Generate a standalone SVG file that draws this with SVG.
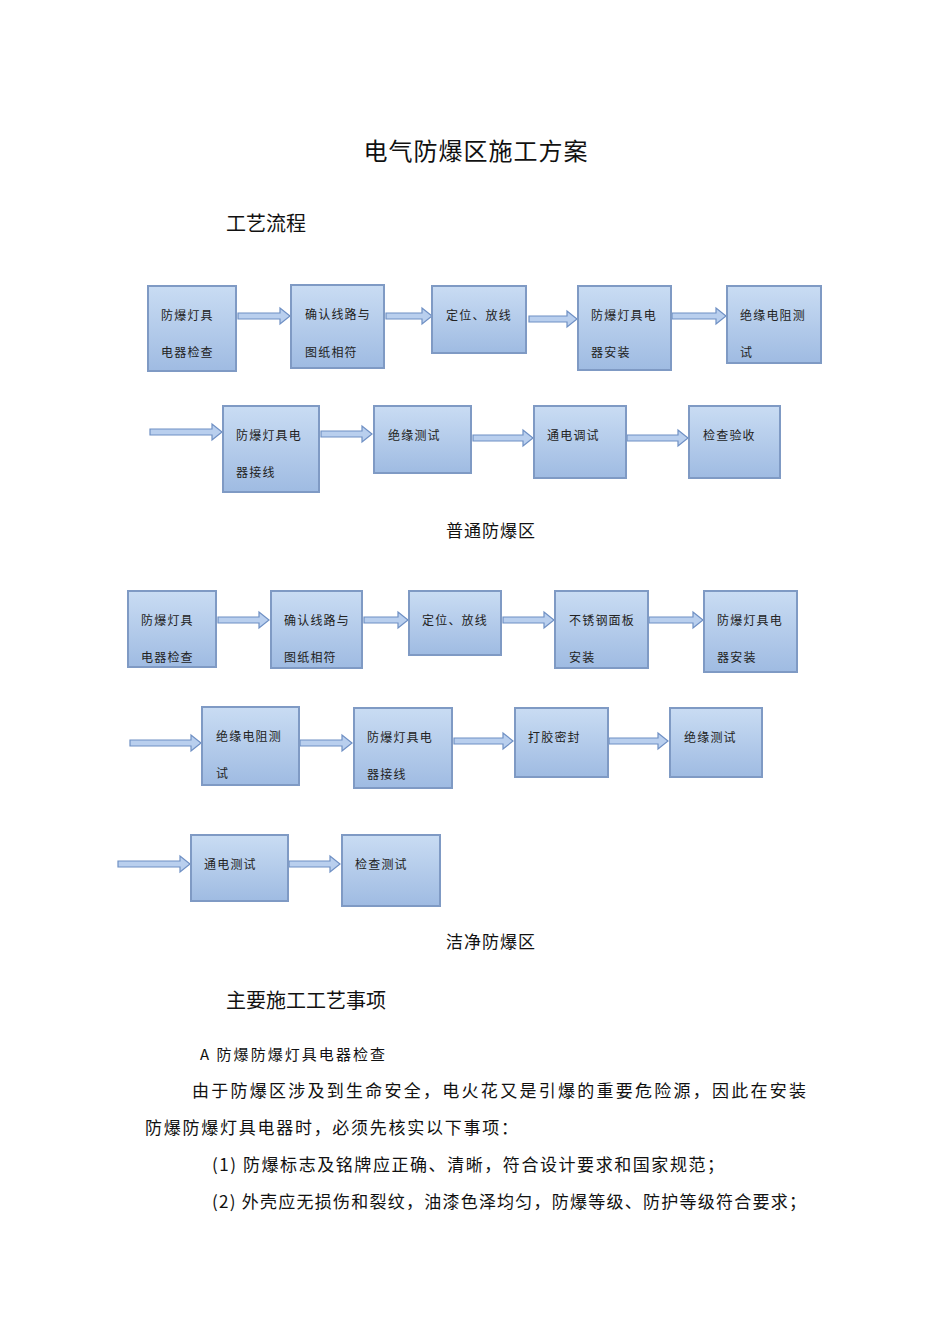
<svg xmlns="http://www.w3.org/2000/svg" width="950" height="1344" viewBox="0 0 950 1344">
<style>
.b{fill:url(#g);stroke:#7f9ac4;stroke-width:2}
.t{font-family:"Noto Sans CJK SC","Liberation Serif",serif;font-size:12px;fill:#222;letter-spacing:1.2px}
.h{font-family:"Noto Sans CJK SC","Liberation Serif",serif;fill:#111}
.a{fill:#b9cfee;stroke:#6f90c4;stroke-width:1.2}
</style>
<defs>
<linearGradient id="g" x1="0" y1="0" x2="0" y2="1"><stop offset="0" stop-color="#c9dcf3"/><stop offset="1" stop-color="#9fbbe2"/></linearGradient>
</defs>
<rect width="950" height="1344" fill="#fff"/>
<text class="h" x="476" y="160" font-size="24" text-anchor="middle" letter-spacing="1">电气防爆区施工方案</text>
<text class="h" x="226" y="231" font-size="20">工艺流程</text>
<g id="connectors">
<path class="a" d="M238,313h42v-5l10,8l-10,8v-5h-42z"/>
<path class="a" d="M386,313h36v-5l10,8l-10,8v-5h-36z"/>
<path class="a" d="M529,316h38v-5l10,8l-10,8v-5h-38z"/>
<path class="a" d="M672,313h44v-5l10,8l-10,8v-5h-44z"/>
<path class="a" d="M150,429h62v-5l10,8l-10,8v-5h-62z"/>
<path class="a" d="M321,431h41v-5l10,8l-10,8v-5h-41z"/>
<path class="a" d="M473,435h50v-5l10,8l-10,8v-5h-50z"/>
<path class="a" d="M627,435h51v-5l10,8l-10,8v-5h-51z"/>
<path class="a" d="M218,617h41v-5l10,8l-10,8v-5h-41z"/>
<path class="a" d="M364,617h34v-5l10,8l-10,8v-5h-34z"/>
<path class="a" d="M503,617h41v-5l10,8l-10,8v-5h-41z"/>
<path class="a" d="M649,617h44v-5l10,8l-10,8v-5h-44z"/>
<path class="a" d="M130,740h61v-5l10,8l-10,8v-5h-61z"/>
<path class="a" d="M300,740h42v-5l10,8l-10,8v-5h-42z"/>
<path class="a" d="M454,738h49v-5l10,8l-10,8v-5h-49z"/>
<path class="a" d="M609,738h49v-5l10,8l-10,8v-5h-49z"/>
<path class="a" d="M118,861h62v-5l10,8l-10,8v-5h-62z"/>
<path class="a" d="M289,861h41v-5l10,8l-10,8v-5h-41z"/>
</g>
<g id="n1"><rect class="b" x="148" y="286" width="88" height="85"/><text class="t" x="161" y="320" letter-spacing="5">防爆灯具</text><text class="t" x="161" y="357">电器检查</text></g>
<g id="n2"><rect class="b" x="291" y="285" width="93" height="83"/><text class="t" x="305" y="319">确认线路与</text><text class="t" x="305" y="357">图纸相符</text></g>
<g id="n3"><rect class="b" x="432" y="286" width="94" height="67"/><text class="t" x="446" y="320">定位、放线</text></g>
<g id="n4"><rect class="b" x="578" y="286" width="93" height="84"/><text class="t" x="591" y="320">防爆灯具电</text><text class="t" x="591" y="357">器安装</text></g>
<g id="n5"><rect class="b" x="727" y="286" width="94" height="77"/><text class="t" x="740" y="320">绝缘电阻测</text><text class="t" x="740" y="357">试</text></g>
<g id="n6"><rect class="b" x="223" y="406" width="96" height="86"/><text class="t" x="236" y="440">防爆灯具电</text><text class="t" x="236" y="477">器接线</text></g>
<g id="n7"><rect class="b" x="374" y="406" width="97" height="67"/><text class="t" x="388" y="440">绝缘测试</text></g>
<g id="n8"><rect class="b" x="534" y="406" width="92" height="72"/><text class="t" x="547" y="440">通电调试</text></g>
<g id="n9"><rect class="b" x="689" y="406" width="91" height="72"/><text class="t" x="703" y="440">检查验收</text></g>
<text class="h" x="491" y="537" font-size="17" text-anchor="middle" letter-spacing="1">普通防爆区</text>
<g id="m1"><rect class="b" x="128" y="591" width="88" height="76"/><text class="t" x="141" y="625" letter-spacing="5">防爆灯具</text><text class="t" x="141" y="662">电器检查</text></g>
<g id="m2"><rect class="b" x="271" y="591" width="91" height="77"/><text class="t" x="284" y="625">确认线路与</text><text class="t" x="284" y="662">图纸相符</text></g>
<g id="m3"><rect class="b" x="409" y="591" width="92" height="64"/><text class="t" x="422" y="625">定位、放线</text></g>
<g id="m4"><rect class="b" x="555" y="591" width="93" height="77"/><text class="t" x="569" y="625">不锈钢面板</text><text class="t" x="569" y="662">安装</text></g>
<g id="m5"><rect class="b" x="704" y="591" width="93" height="81"/><text class="t" x="717" y="625">防爆灯具电</text><text class="t" x="717" y="662">器安装</text></g>
<g id="m6"><rect class="b" x="202" y="707" width="97" height="78"/><text class="t" x="216" y="741">绝缘电阻测</text><text class="t" x="216" y="778">试</text></g>
<g id="m7"><rect class="b" x="354" y="708" width="98" height="80"/><text class="t" x="367" y="742">防爆灯具电</text><text class="t" x="367" y="779">器接线</text></g>
<g id="m8"><rect class="b" x="515" y="708" width="93" height="69"/><text class="t" x="528" y="742">打胶密封</text></g>
<g id="m9"><rect class="b" x="670" y="708" width="92" height="69"/><text class="t" x="684" y="742">绝缘测试</text></g>
<g id="m10"><rect class="b" x="191" y="835" width="97" height="66"/><text class="t" x="204" y="869">通电测试</text></g>
<g id="m11"><rect class="b" x="342" y="835" width="98" height="71"/><text class="t" x="355" y="869">检查测试</text></g>
<text class="h" x="491" y="948" font-size="17" text-anchor="middle" letter-spacing="1">洁净防爆区</text>
<text class="h" x="226" y="1008" font-size="20">主要施工工艺事项</text>
<text class="h" x="200" y="1060" font-size="15" textLength="185">A 防爆防爆灯具电器检查</text>
<text class="h" x="192" y="1097" font-size="17" textLength="614">由于防爆区涉及到生命安全，电火花又是引爆的重要危险源，因此在安装</text>
<text class="h" x="145" y="1134" font-size="17" textLength="373">防爆防爆灯具电器时，必须先核实以下事项：</text>
<text class="h" x="212" y="1171" font-size="17" textLength="512">(1) 防爆标志及铭牌应正确、清晰，符合设计要求和国家规范；</text>
<text class="h" x="212" y="1208" font-size="17" textLength="594">(2) 外壳应无损伤和裂纹，油漆色泽均匀，防爆等级、防护等级符合要求；</text>
</svg>
